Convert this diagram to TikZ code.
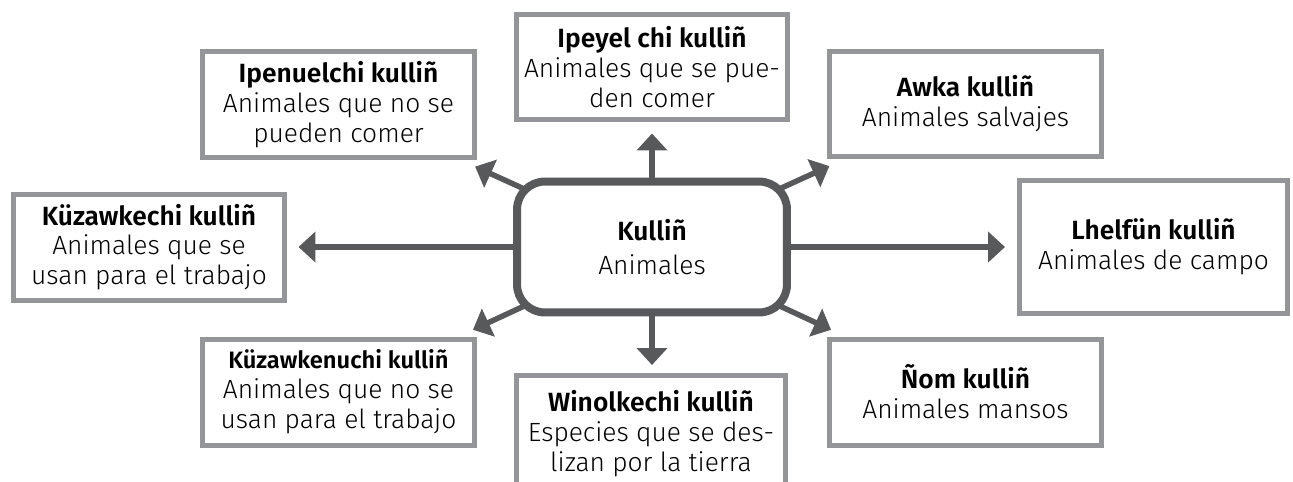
\documentclass[tikz,border=0pt]{standalone}
\usepackage{fontspec}
\IfFontExistsTF{Fira Sans Light}
  {\IfFontExistsTF{Fira Sans SemiBold}
    {\setmainfont{Fira Sans Light}[BoldFont={Fira Sans SemiBold}]}
    {\setmainfont{Fira Sans Light}[BoldFont={Fira Sans Bold}]}}
  {\setmainfont{Fira Sans}}
\usetikzlibrary{arrows.meta}

\definecolor{boxgray}{HTML}{939598}
\definecolor{arrgray}{HTML}{58595B}

\tikzset{
  leaf/.style={draw=boxgray, line width=0.1cm, minimum width=5.44cm, minimum height=2.12cm,
    inner sep=0pt, align=center, font=\fontsize{15}{17}\selectfont},
  hub/.style={draw=arrgray, line width=0.16cm, rounded corners=0.56cm, minimum width=5.4cm,
    minimum height=2.62cm, align=center, font=\fontsize{15}{19.8}\selectfont},
  arr/.style={draw=arrgray, line width=0.11cm, -{Triangle[width=0.6cm,length=0.34cm]}},
}

\begin{document}
\begin{tikzpicture}[x=0.02cm, y=-0.02cm]
\useasboundingbox (0,0) rectangle (1293,481);

\node[hub] (ctr) at (652,247) {\textbf{Kulliñ}\\Animales};

\node[leaf] (ipeyel) at (652,67) {\textbf{Ipeyel chi kulliñ}\\Animales que se pue-\\den comer};
\node[leaf] (ipenuel) at (338.5,104.5) {\textbf{Ipenuelchi kulliñ}\\Animales que no se\\pueden comer};
\node[leaf] (awka) at (965.5,104) {\textbf{Awka kulliñ}\\Animales salvajes};
\node[leaf] (kuzaw) at (149,247) {\textbf{Küzawkechi kulliñ}\\Animales que se\\usan para el trabajo};
\node[leaf, minimum width=5.36cm, minimum height=2.66cm] (lhelfun) at (1153.5,247) {\textbf{Lhelfün kulliñ}\\Animales de campo};
\node[leaf] (kuzawnu) at (338.5,392) {{\fontsize{13.5}{17}\selectfont\textbf{Küzawkenuchi kulliñ}}\\Animales que no se\\usan para el trabajo};
\node[leaf, minimum width=5.38cm, minimum height=2.32cm] (winol) at (651,433.5) {\textbf{Winolkechi kulliñ}\\Especies que se des-\\lizan por la tierra};
\node[leaf] (nom) at (965.5,392) {\textbf{Ñom kulliñ}\\Animales mansos};

% straight ones
\draw[arr, shorten >=0.22cm] (ctr) -- (ipeyel);
\draw[arr, shorten >=0.16cm] (ctr) -- (ctr |- winol.north);
\draw[arr, shorten >=0.22cm] (ctr) -- (kuzaw);
\draw[arr, shorten >=0.24cm] (ctr) -- (lhelfun);
\draw[arr, shorten <=-0.26cm, shorten >=0.32cm] (ctr) -- (ipenuel);
\draw[arr, shorten <=-0.26cm, shorten >=0.32cm] (ctr) -- (awka);
\draw[arr, shorten <=-0.26cm, shorten >=0.32cm] (ctr) -- (kuzawnu);
\draw[arr, shorten <=-0.26cm, shorten >=0.32cm] (ctr) -- (nom);
\end{tikzpicture}
\end{document}
